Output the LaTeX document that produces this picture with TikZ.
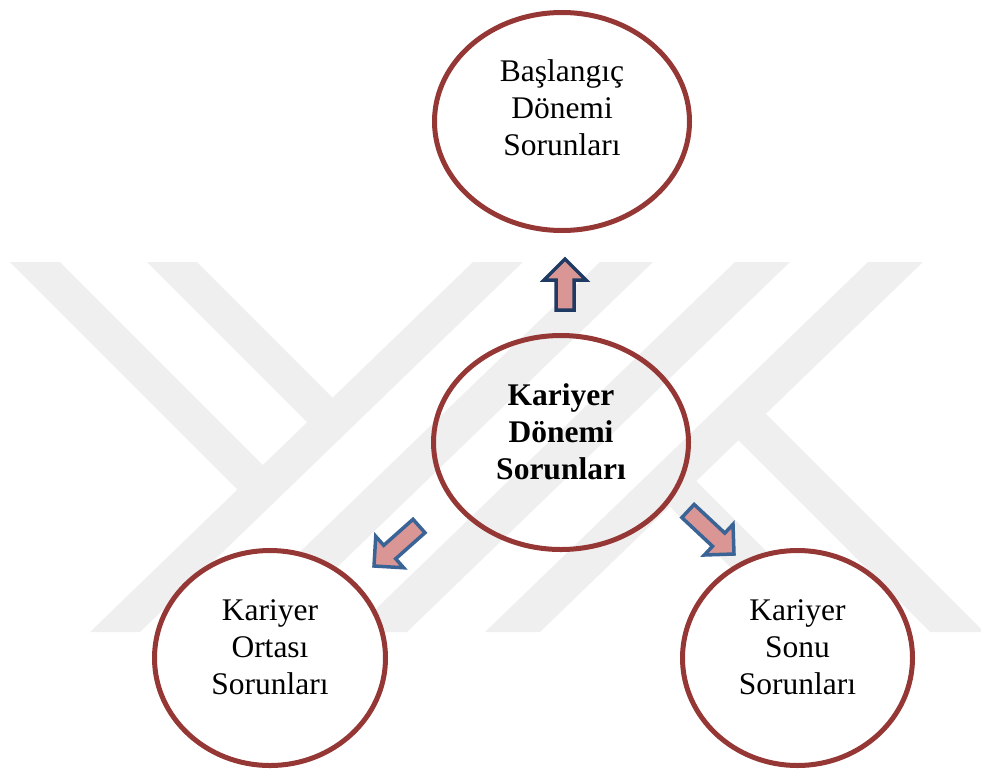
\documentclass[tikz,border=0pt]{standalone}
\usepackage{fontspec}
\setmainfont{Liberation Serif}
\usetikzlibrary{shapes.geometric,calc}
\definecolor{ringred}{HTML}{953735}
\definecolor{arrfill}{HTML}{D99694}
\definecolor{arrdark}{HTML}{1F3B63}
\definecolor{arrblue}{HTML}{3A6396}
\definecolor{wm}{HTML}{EFEFEF}
\newcommand\drawblockarrow[3]{%
  \coordinate (#2-b) at ($(#3)!21pt!(#2)$);
  \draw[#1] ($(#2)!9pt!90:(#3)$) -- ($(#2-b)!9pt!90:(#3)$) -- ($(#2-b)!21pt!90:(#3)$)
    -- (#3) -- ($(#2-b)!21pt!-90:(#3)$) -- ($(#2-b)!9pt!-90:(#3)$)
    -- ($(#2)!9pt!-90:(#3)$) -- cycle;}
\begin{document}
\begin{tikzpicture}[x=1pt,y=-1pt,
  ring/.style={ellipse, draw=ringred, line width=5pt, inner sep=0pt},
  ringtext/.style={align=center, inner sep=0pt, font=\fontsize{31.5}{37}\selectfont},
  blockarr/.style={fill=arrfill, line width=3.5pt, line join=miter},
  wmband/.style={fill=wm}]
\useasboundingbox (0,0) rectangle (981,771);
% watermark
\fill[wmband] (473,262) -- (523,262) -- (140,632) -- (90,632) -- cycle;
\fill[wmband] (600,262) -- (653,262) -- (270,632) -- (217,632) -- cycle;
\fill[wmband] (735,262) -- (790,262) -- (407,632) -- (352,632) -- cycle;
\fill[wmband] (868,262) -- (923,262) -- (540,632) -- (485,632) -- cycle;
\fill[wmband] (10,262) -- (60,262) -- (273,475) -- (247.5,499.5) -- cycle;
\fill[wmband] (147,262) -- (197,262) -- (342.6,407.6) -- (314.2,429.2) -- cycle;
\fill[wmband] (757.9,405.9) -- (981,629) -- (981,632) -- (930,632) -- (730.4,432.4) -- cycle;
\fill[wmband] (688.2,473.2) -- (847,632) -- (795,632) -- (661.7,498.7) -- cycle;
% rings
\node[ring, minimum width=255pt, minimum height=218pt] (start) at (562,121.5) {};
\node[ring, minimum width=255pt, minimum height=214pt] (core) at (561,442.5) {};
\node[ring, fill=white, minimum width=231pt, minimum height=215pt] (mid) at (270,658) {};
\node[ring, fill=white, minimum width=230pt, minimum height=215pt] (late) at (797.5,658) {};
\node[ringtext] (startt) at (start.center) [yshift=14pt] {Başlangıç\\Dönemi\\Sorunları};
\node[ringtext, font=\fontsize{31.5}{37}\selectfont\bfseries] (coret) at (core.center) [yshift=11pt] {Kariyer\\Dönemi\\Sorunları};
\node[ringtext] (midt) at (mid.center) [yshift=11pt] {Kariyer\\Ortası\\Sorunları};
\node[ringtext] (latet) at (late.center) [yshift=11pt] {Kariyer\\Sonu\\Sorunları};
% block arrows
\coordinate (upT) at (565,310); \coordinate (upH) at (565,259);
\coordinate (llT) at (419,526); \coordinate (llH) at (374,566);
\coordinate (lrT) at (688,511); \coordinate (lrH) at (734,554);
\drawblockarrow{blockarr, draw=arrdark}{upT}{upH}
\drawblockarrow{blockarr, draw=arrblue}{llT}{llH}
\drawblockarrow{blockarr, draw=arrblue}{lrT}{lrH}
\end{tikzpicture}
\end{document}
